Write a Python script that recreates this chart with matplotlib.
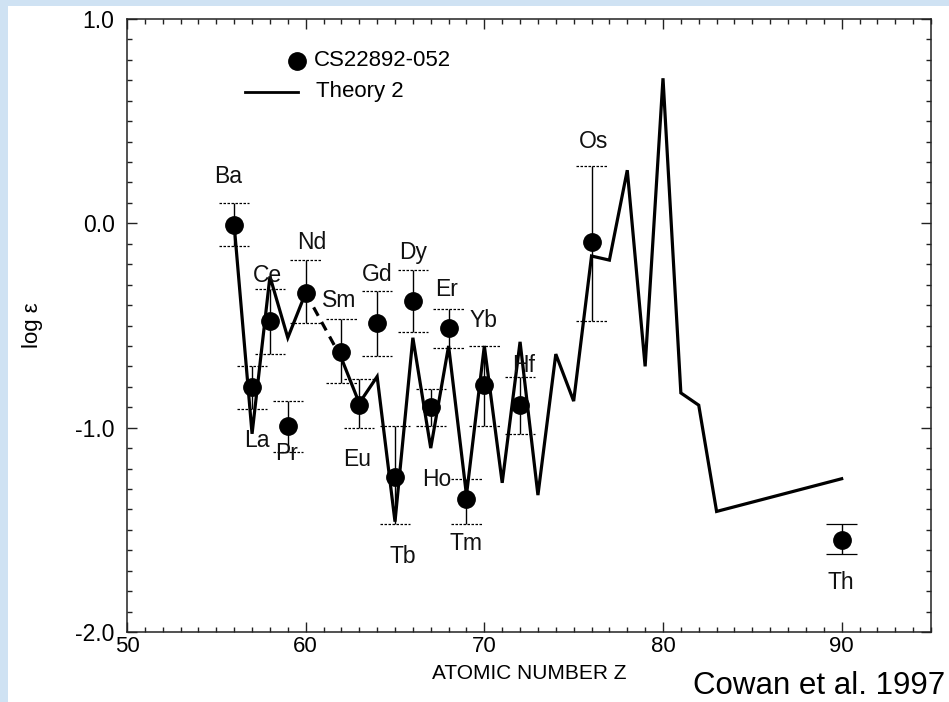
import numpy as np
import matplotlib
matplotlib.use('Agg')
import matplotlib.pyplot as plt
from matplotlib.patches import Rectangle
from matplotlib.ticker import MultipleLocator, FixedLocator

plt.rcParams['font.family'] = ['Liberation Sans', 'DejaVu Sans']
plt.rcParams['axes.unicode_minus'] = False

# ---------------- data ----------------
elements = ['Ba', 'La', 'Ce', 'Pr', 'Nd', 'Sm', 'Eu', 'Gd', 'Tb', 'Dy',
            'Ho', 'Er', 'Tm', 'Yb', 'Hf', 'Os', 'Th']
obs_z = [56, 57, 58, 59, 60, 62, 63, 64, 65, 66, 67, 68, 69, 70, 72, 76, 90]
obs_val = [-0.01, -0.80, -0.48, -0.99, -0.34, -0.63, -0.89, -0.49, -1.24, -0.38,
           -0.90, -0.51, -1.35, -0.79, -0.89, -0.09, -1.55]
obs_hi = [0.10, -0.70, -0.32, -0.87, -0.18, -0.47, -0.76, -0.33, -0.99, -0.23,
          -0.81, -0.42, -1.25, -0.60, -0.75, 0.28, -1.47]
obs_lo = [-0.11, -0.91, -0.64, -1.12, -0.49, -0.78, -1.00, -0.65, -1.47, -0.53,
          -0.99, -0.61, -1.47, -0.99, -1.03, -0.48, -1.62]

theory_z = [56, 57, 58, 59, 60, 62, 63, 64, 65, 66, 67, 68, 69, 70, 71, 72, 73,
            74, 75, 76, 77, 78, 79, 80, 81, 82, 83, 90]
theory_val = [-0.01, -1.03, -0.26, -0.56, -0.34, -0.66, -0.88, -0.75, -1.46, -0.56,
              -1.10, -0.60, -1.33, -0.60, -1.27, -0.58, -1.33, -0.64, -0.87, -0.16,
              -0.18, 0.26, -0.70, 0.71, -0.83, -0.89, -1.41, -1.25]
theory_gap = 61  # Pm: no value, bridged with a dashed segment

x_ticks = [50, 60, 70, 80, 90]
y_ticks = [-2.0, -1.0, 0.0, 1.0]

# label offsets (pixels) relative to each observed point
label_offsets = {
    'Ba': (-6, 49), 'La': (5, -54), 'Ce': (-2, 46), 'Pr': (-1, -28),
    'Nd': (6, 50), 'Sm': (-2, 52), 'Eu': (-2, -54), 'Gd': (0, 49),
    'Tb': (8, -80), 'Dy': (0, 48), 'Ho': (6, -72), 'Er': (-2, 38),
    'Tm': (0, -44), 'Yb': (-1, 64), 'Hf': (4, 40), 'Os': (2, 100),
    'Th': (-1, -42),
}

# ---------------- figure ----------------
W, H = 949, 702
fig = plt.figure(figsize=(W / 100, H / 100), dpi=100)
fig.patch.set_facecolor('#cfe2f3')
fig.add_artist(Rectangle((8 / W, 0), 1 - 8 / W, 1 - 6 / H, transform=fig.transFigure,
                         facecolor='white', edgecolor='none', zorder=0))

ax = fig.add_axes([127 / W, 1 - 632 / H, 804 / W, 613 / H])
ax.set_facecolor('white')

tz = np.array(theory_z)
tv = np.array(theory_val)
left = tz < theory_gap
right = tz > theory_gap
ax.plot(tz[left], tv[left], color='black', lw=2.3, zorder=3, solid_joinstyle='miter')
ax.plot(tz[right], tv[right], color='black', lw=2.3, zorder=3, solid_joinstyle='miter')
il = np.where(left)[0][-1]
ir = np.where(right)[0][0]
ax.plot([tz[il], tz[ir]], [tv[il], tv[ir]], color='black', lw=2.3,
        ls=(0, (3, 2.2)), zorder=3)

oz = np.array(obs_z, dtype=float)
ov = np.array(obs_val)
ohi = np.array(obs_hi)
olo = np.array(obs_lo)
dashed = np.array([e != 'Th' for e in elements])

ax.vlines(oz, olo, ohi, color='black', lw=1.0, zorder=4)
cw = 0.85
for mask, ls in [(dashed, (0, (2.0, 1.2))), (~dashed, 'solid')]:
    ax.hlines(ohi[mask], oz[mask] - cw, oz[mask] + cw, color='black', lw=0.9,
              linestyles=[ls], zorder=4)
    ax.hlines(olo[mask], oz[mask] - cw, oz[mask] + cw, color='black', lw=0.9,
              linestyles=[ls], zorder=4)

ax.plot(oz, ov, 'o', color='black', ms=12.5, zorder=5)

for e, z, v in zip(elements, obs_z, obs_val):
    dx, dy = label_offsets[e]
    ax.annotate(e, (z, v), xytext=(dx, dy), textcoords='offset pixels',
                ha='center', va='center', fontsize=16.5, color='#111111', zorder=6)

# legend (drawn by hand to mimic the original layout)
ax.plot([0.2114], [0.9315], 'o', color='black', ms=12.5, transform=ax.transAxes,
        clip_on=False)
ax.text(0.2328, 0.9315, 'CS22892-052', transform=ax.transAxes, va='center',
        ha='left', fontsize=16)
ax.plot([0.1468, 0.2127], [0.881, 0.881], color='black', lw=2.0,
        transform=ax.transAxes)
ax.text(0.2353, 0.881, 'Theory 2', transform=ax.transAxes, va='center',
        ha='left', fontsize=16)

ax.set_xlim(50, 95)
ax.set_ylim(-2.0, 1.0)
ax.xaxis.set_major_locator(FixedLocator(x_ticks))
ax.xaxis.set_minor_locator(MultipleLocator(1))
ax.yaxis.set_major_locator(FixedLocator(y_ticks))
ax.yaxis.set_minor_locator(MultipleLocator(0.1))
ax.set_xticklabels([str(t) for t in x_ticks])
ax.set_yticklabels(['%.1f' % t for t in y_ticks])
ax.tick_params(which='both', direction='in', top=True, right=True, width=1.0,
               color='#222222')
ax.tick_params(which='major', length=7)
ax.tick_params(which='minor', length=3.5)
ax.tick_params(axis='x', which='major', labelsize=16, pad=3)
ax.tick_params(axis='y', which='major', labelsize=16.5, pad=9)
for s in ax.spines.values():
    s.set_linewidth(1.1)
    s.set_color('#222222')

ax.set_xlabel('ATOMIC NUMBER Z', fontsize=15)
ax.xaxis.set_label_coords(0.5, -0.068)
ax.xaxis.label.set_va('center')
ax.set_ylabel('log ε', fontsize=16)
ax.yaxis.set_label_coords(-0.118, 0.5)
ax.yaxis.label.set_va('center')

fig.text(945 / W, 1 - 686 / H, 'Cowan et al. 1997', ha='right', va='center',
         fontsize=22.5, color='black')

fig.savefig('out.png', dpi=100, facecolor=fig.get_facecolor())
